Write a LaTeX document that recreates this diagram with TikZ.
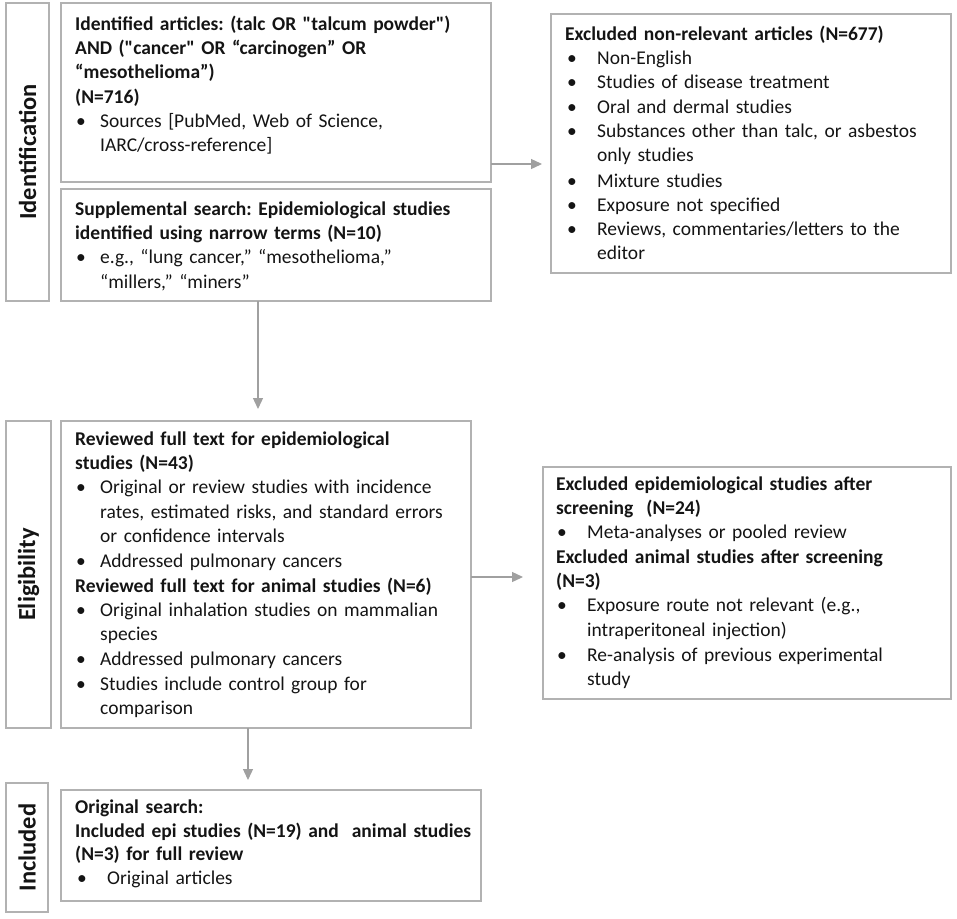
\documentclass[tikz,border=0pt]{standalone}
\usepackage{fontspec}
\setmainfont{Carlito}[Ligatures=TeXOff]
\usetikzlibrary{arrows.meta}
\definecolor{boxgray}{RGB}{178,178,178}
\definecolor{arrgray}{RGB}{160,160,160}
\definecolor{txtcol}{RGB}{20,20,20}
\setlength\parindent{0pt}
\setlength\parskip{0pt}
\setlength\lineskip{0pt}
\frenchspacing
\newcommand\bitem[3]{\par\noindent\makebox[#2][l]{\hspace*{#1}\textbullet}\parbox[t]{\dimexpr\linewidth-#2\relax}{\strut#3\strut}}
\tikzset{
  frame/.style={draw=boxgray, line width=1.3pt, anchor=north west, inner sep=0pt, outer sep=0pt},
  txtnode/.style={anchor=north west, inner sep=0pt, text width=430pt, align=left, text=txtcol,
                  font=\fontsize{19.5}{24.3}\selectfont},
  lab/.style={rotate=90, text=txtcol, font=\bfseries\fontsize{24.5}{26}\selectfont},
  arr/.style={draw=arrgray, line width=1.3pt, -{Triangle[length=11pt,width=10pt]}}
}
\begin{document}
\begin{tikzpicture}[x=1pt,y=-1pt]
\useasboundingbox (0,0) rectangle (957,918);
% frames
\node (lab1) [frame, minimum width=43pt, minimum height=298pt] at (6,3) {};
\node (b1) [frame, minimum width=430pt, minimum height=179pt] at (61,3) {};
\node (b2) [frame, minimum width=430pt, minimum height=112pt] at (61,189) {};
\node (b3) [frame, minimum width=400pt, minimum height=259pt] at (551,14) {};
\node (lab2) [frame, minimum width=45pt, minimum height=307pt] at (6,421) {};
\node (b4) [frame, minimum width=410pt, minimum height=307pt] at (61,421) {};
\node (b5) [frame, minimum width=408pt, minimum height=232pt] at (543,467) {};
\node (lab3) [frame, minimum width=42pt, minimum height=129pt] at (6,783) {};
\node (b6) [frame, minimum width=420pt, minimum height=111pt] at (61,790) {};
% side labels
\node (l1) [lab] at (lab1.center) {Identification};
\node (l2) [lab] at (lab2.center) {Eligibility};
\node (l3) [lab] at (lab3.center) {Included};
% texts
\node (t1) [txtnode] at (75,13) {\strut\textbf{Identified articles: (talc OR "talcum powder")}\newline
\textbf{AND ("cancer" OR “carcinogen” OR}\newline
\textbf{“mesothelioma”)}\newline
\textbf{(N=716)}
\bitem{1pt}{25pt}{Sources [PubMed, Web of Science,\\ IARC/cross-reference]}};
\node (t2) [txtnode] at (75,198) {\strut\textbf{Supplemental search: Epidemiological studies}\newline
\textbf{identified using narrow terms (N=10)}
\bitem{1pt}{25pt}{e.g., “lung cancer,” “mesothelioma,”\\ “millers,” “miners”}};
\node (t3) [txtnode, text width=380pt] at (565,23) {\strut\textbf{Excluded non-relevant articles (N=677)}
\bitem{2pt}{32pt}{Non-English}
\bitem{2pt}{32pt}{Studies of disease treatment}
\bitem{2pt}{32pt}{Oral and dermal studies}
\bitem{2pt}{32pt}{Substances other than talc, or asbestos\\ only studies}
\bitem{2pt}{32pt}{Mixture studies}
\bitem{2pt}{32pt}{Exposure not specified}
\bitem{2pt}{32pt}{Reviews, commentaries/letters to the\\ editor}};
\node (t4) [txtnode, text width=390pt] at (75,428) {\strut\textbf{Reviewed full text for epidemiological}\newline
\textbf{studies (N=43)}
\bitem{1pt}{25pt}{Original or review studies with incidence\\ rates, estimated risks, and standard errors\\ or confidence intervals}
\bitem{1pt}{25pt}{Addressed pulmonary cancers}
\par\noindent\strut\textbf{Reviewed full text for animal studies (N=6)}
\bitem{1pt}{25pt}{Original inhalation studies on mammalian\\ species}
\bitem{1pt}{25pt}{Addressed pulmonary cancers}
\bitem{1pt}{25pt}{Studies include control group for\\ comparison}};
\node (t5) [txtnode, text width=390pt] at (556,473) {\strut\textbf{Excluded epidemiological studies after}\newline
\textbf{screening\ \ (N=24)}
\bitem{1pt}{31pt}{Meta-analyses or pooled review}
\par\noindent\strut\textbf{Excluded animal studies after screening}\newline
\textbf{(N=3)}
\bitem{1pt}{31pt}{Exposure route not relevant (e.g.,\\ intraperitoneal injection)}
\bitem{1pt}{31pt}{Re-analysis of previous experimental\\ study}};
\node (t6) [txtnode, text width=400pt, font=\fontsize{19.5}{23.5}\selectfont] at (75,797) {\strut\textbf{Original search:}\newline
\textbf{Included epi studies (N=19) and\ \ animal studies}\newline
\textbf{(N=3) for full review}
\bitem{2pt}{32pt}{Original articles}};
% connectors
\draw[arr, shorten >=9pt] (b1.east |- 0,164) -- (b3.west |- 0,164);
\draw[arr, shorten >=12pt] (b2.south -| 258,0) -- (b4.north -| 258,0);
\draw[arr, shorten >=20pt] (b4.east |- 0,577) -- (b5.west |- 0,577);
\draw[arr, shorten >=10pt] (b4.south -| 248,0) -- (b6.north -| 248,0);
\end{tikzpicture}
\end{document}
